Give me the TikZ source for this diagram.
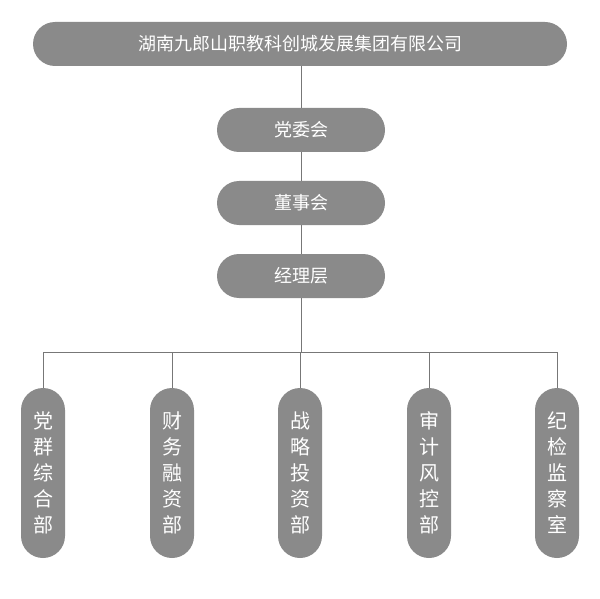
\documentclass[tikz,border=0pt]{standalone}
\usepackage{fontspec}
\newfontfamily\cjk{Noto Sans CJK SC}
\begin{document}
\begin{tikzpicture}[x=1pt,y=-1pt,
  pill/.style={fill=boxgray,rounded corners=22pt,text=white,font=\cjk\fontsize{18}{20}\selectfont,inner sep=0pt,anchor=center},
  vpill/.style={fill=boxgray,rounded corners=22pt,text=white,font=\cjk\fontsize{20}{26}\selectfont,inner sep=0pt,minimum width=44pt,minimum height=170pt,align=center},
  conn/.style={draw=linegray,line width=0.8pt}]
\definecolor{boxgray}{HTML}{8A8A8A}
\definecolor{linegray}{HTML}{777777}
\useasboundingbox (0,0) rectangle (600,599);
\node[pill,minimum width=534pt,minimum height=44pt] (top) at (300,44) {湖南九郎山职教科创城发展集团有限公司};
\node[pill,minimum width=168pt,minimum height=44pt] (dw) at (301,130) {党委会};
\node[pill,minimum width=168pt,minimum height=44pt] (ds) at (301,203) {董事会};
\node[pill,minimum width=168pt,minimum height=44pt] (jl) at (301,276) {经理层};
\coordinate (hub) at (301,352);
\node[vpill] (b1) at (43,473) {党\\群\\综\\合\\部};
\node[vpill] (b2) at (172,473) {财\\务\\融\\资\\部};
\node[vpill] (b3) at (300,473) {战\\略\\投\\资\\部};
\node[vpill] (b4) at (429,473) {审\\计\\风\\控\\部};
\node[vpill] (b5) at (557,473) {纪\\检\\监\\察\\室};
\draw[conn] (top.south -| dw) -- (dw.north);
\draw[conn] (dw) -- (ds);
\draw[conn] (ds) -- (jl);
\draw[conn] (jl.south) -- (hub);
\draw[conn] (b1.north |- hub) -- (b5.north |- hub);
\foreach \b in {b1,b2,b3,b4,b5} \draw[conn] (\b.north |- hub) -- (\b.north);
\end{tikzpicture}
\end{document}
